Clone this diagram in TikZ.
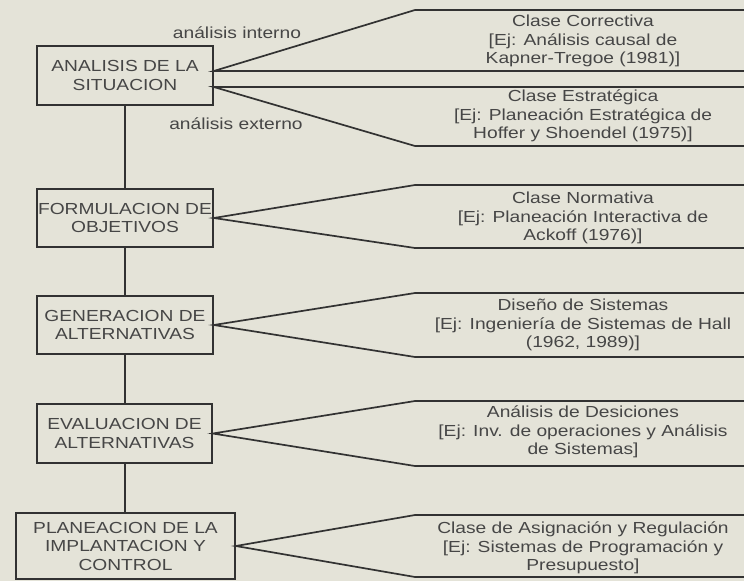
\documentclass[tikz,border=0pt]{standalone}
\usepackage{fontspec}
\setmainfont{Liberation Sans}[FakeStretch=1.2]
\usetikzlibrary{positioning}
\definecolor{paper}{RGB}{228,227,216}
\definecolor{ink}{RGB}{50,50,50}
\definecolor{printgray}{RGB}{70,70,70}

\begin{document}
\begin{tikzpicture}[
x=1pt,y=-1pt,
Phase/.style={draw=ink,line width=1.7pt,text=printgray,align=center,inner sep=1pt,font=\fontsize{16}{18.5}\selectfont},
Kind/.style={text=printgray,align=center,font=\fontsize{16}{18.5}\selectfont},
Panel/.style={draw=ink,line width=1.7pt,line join=miter},
Chain/.style={draw=ink,line width=1.7pt}
]
\fill[paper] (0,0) rectangle (744,581);
\useasboundingbox (0,0) rectangle (744,581);

% fases del proceso
\node[Phase,minimum width=176pt,minimum height=59pt] (A) at (125,75.5) {ANALISIS DE LA\\SITUACION};
\node[Phase,minimum width=176pt,minimum height=58pt] (B) at (125,218) {FORMULACION DE\\OBJETIVOS};
\node[Phase,minimum width=176pt,minimum height=58pt] (C) at (125,325) {GENERACION DE\\ALTERNATIVAS};
\node[Phase,minimum width=175pt,minimum height=59pt] (D) at (124.5,433.5) {EVALUACION DE\\ALTERNATIVAS};
\node[Phase,minimum width=219pt,minimum height=66pt] (E) at (125.5,546) {PLANEACION DE LA\\IMPLANTACION Y\\CONTROL};

\draw[Chain] (A.south -| 125,0) -- (B.north -| 125,0);
\draw[Chain] (B.south -| 125,0) -- (C.north -| 125,0);
\draw[Chain] (C.south -| 125,0) -- (D.north -| 125,0);
\draw[Chain] (D.south -| 125,0) -- (E.north -| 125,0);

% clases de sistemas
\node[Kind] (KA) at (583,41) {Clase Correctiva\\{}[Ej: Análisis causal de\\Kapner-Tregoe (1981)]};
\node[Kind] (KB) at (583,116) {Clase Estratégica\\{}[Ej: Planeación Estratégica de\\Hoffer y Shoendel (1975)]};
\node[Kind] (KC) at (583,218) {Clase Normativa\\{}[Ej: Planeación Interactiva de\\Ackoff (1976)]};
\node[Kind] (KD) at (583,325) {Diseño de Sistemas\\{}[Ej: Ingeniería de Sistemas de Hall\\(1962, 1989)]};
\node[Kind] (KE) at (583,432) {Análisis de Desiciones\\{}[Ej: Inv. de operaciones y Análisis\\de Sistemas]};
\node[Kind] (KF) at (583,548) {Clase de Asignación y Regulación\\{}[Ej: Sistemas de Programación y\\Presupuesto]};

\node[Kind] (int) at (237,33) {análisis interno};
\node[Kind] (ext) at (236,124) {análisis externo};

%\draw[Panel] (744,10) -- (415,10) -- (A.east) -- (744,70);
\draw[Panel] (744,10) -- (415,10) -- ([yshift=4.5pt]A.east) -- (744,71);
\draw[Panel] (744,87) -- ([yshift=-11.5pt]A.east) -- (415,146) -- (744,146);

\draw[Panel] (744,185) -- (415,185) -- (B.east) -- (415,248) -- (744,248);
\draw[Panel] (744,293) -- (415,293) -- (C.east) -- (415,357) -- (744,357);
\draw[Panel] (744,401) -- (415,401) -- (D.east) -- (415,466) -- (744,466);
\draw[Panel] (744,515) -- (415,515) -- (E.east) -- (415,577) -- (744,577);

\end{tikzpicture}
\end{document}
